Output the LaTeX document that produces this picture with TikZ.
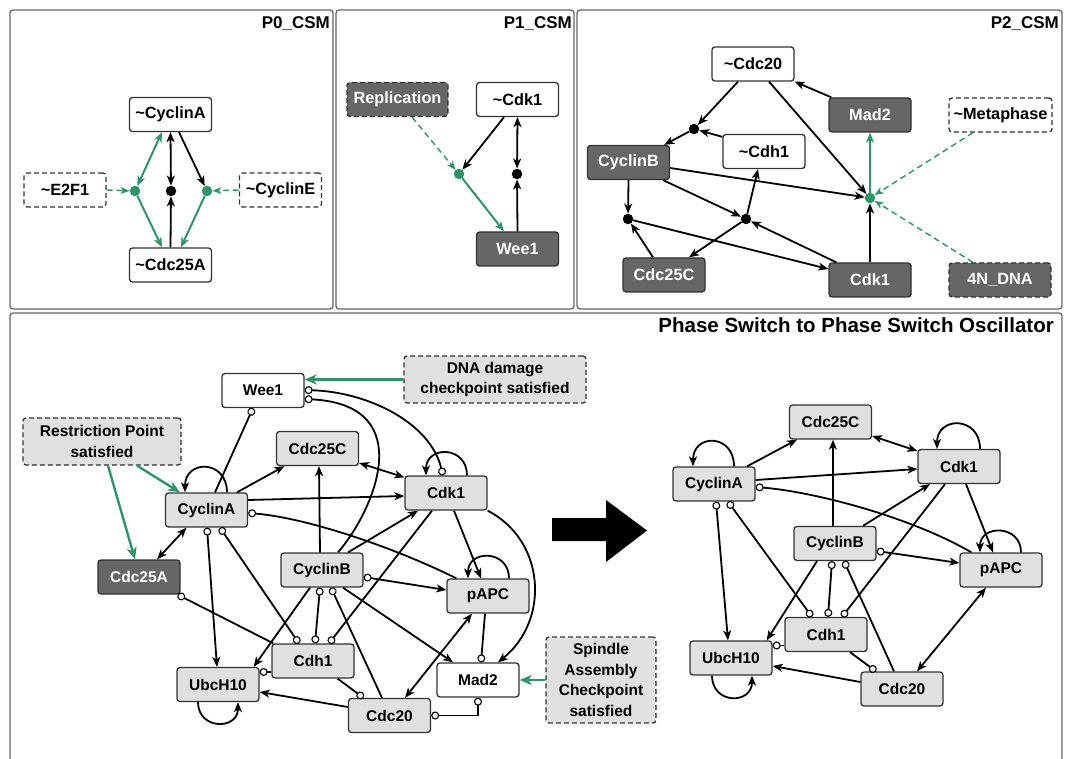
\documentclass[tikz,border=0pt]{standalone}
\usepackage{fontspec}
\setmainfont{Liberation Sans}
\usetikzlibrary{arrows.meta}
\definecolor{grn}{RGB}{44,150,102}
\definecolor{lgray}{RGB}{224,224,224}
\definecolor{dgray}{RGB}{102,102,102}
\definecolor{edgegray}{RGB}{50,50,50}
\begin{document}
\begin{tikzpicture}[x=1pt,y=-1pt,
  ci/.tip={Circle[fill=white,length=8pt,width=8pt,line width=1.1pt]},
  >={Stealth[length=10pt,width=8pt,inset=2.8pt]},
  nbox/.style={rectangle,rounded corners=3pt,draw=edgegray,line width=1.3pt,
    minimum width=82pt,minimum height=34pt,inner sep=2pt,align=center,
    font=\bfseries\fontsize{15.5}{20.5}\selectfont},
  tbox/.style={font=\bfseries\fontsize{16.3}{20}\selectfont},
  wbox/.style={nbox,fill=white},
  lbox/.style={nbox,fill=lgray},
  dbox/.style={nbox,fill=dgray,text=white},
  ext/.style={dash pattern=on 5pt off 3pt},
  kdot/.style={circle,fill=black,inner sep=0pt,minimum size=10.5pt},
  gdot/.style={circle,fill=grn,inner sep=0pt,minimum size=10.5pt},
  ed/.style={line width=1.8pt,draw=black},
  gr/.style={line width=2pt,draw=grn},
  grb/.style={line width=2.4pt,draw=grn,-{Stealth[length=12pt,width=10pt,inset=3.5pt]}},
  grd/.style={line width=1.4pt,draw=grn,dash pattern=on 6pt off 4pt,
    -{Stealth[length=9pt,width=7pt,inset=2.5pt]}},
  panel/.style={draw=black!60,line width=1.3pt,rounded corners=3pt},
  ptitle/.style={anchor=east,inner sep=0pt,font=\bfseries\fontsize{17}{20}\selectfont},
]
\useasboundingbox (0,0) rectangle (1068,759);

% ---------- panels ----------
\draw[panel] (10,10) rectangle (333,309);
\draw[panel] (336,10) rectangle (574,309);
\draw[panel] (577,10) rectangle (1062,309);
\draw[panel] (10,762) -- (10,313) -- (1062,313) -- (1062,762);

\node[ptitle] (t0) at (330,23.5) {P0\_CSM};
\node[ptitle] (t1) at (572,23.5) {P1\_CSM};
\node[ptitle] (t2) at (1059,23.5) {P2\_CSM};
\node[anchor=east,inner sep=0pt,font=\bfseries\fontsize{20.5}{24}\selectfont] (t3)
  at (1054,325) {Phase Switch to Phase Switch Oscillator};

% ---------- P0 ----------
\node[wbox,tbox] (p0a) at (170.5,114.5) {\textasciitilde CyclinA};
\node[wbox,tbox] (p0c) at (170.5,265) {\textasciitilde Cdc25A};
\node[wbox,tbox,ext] (p0e) at (65,190) {\textasciitilde E2F1};
\node[wbox,tbox,ext] (p0ce) at (280.5,190) {\textasciitilde CyclinE};
\node[gdot] (g0l) at (135,191) {};
\node[kdot] (k0) at (171,191) {};
\node[gdot] (g0r) at (207,191) {};
\draw[gr,<->] ([xshift=-8.5pt]p0a.south) -- (g0l);
\draw[gr,->] (g0l) -- ([xshift=-8.5pt]p0c.north);
\draw[grd] (p0e.east) -- (g0l);
\draw[gr,->] (g0r) -- ([xshift=10.5pt]p0c.north);
\draw[ed,->] ([xshift=8.5pt]p0a.south) -- (g0r);
\draw[ed,<->] (p0a.south) -- (k0);
\draw[ed,->] (p0c.north) -- (k0);
\draw[grd] (p0ce.west) -- (g0r);

% ---------- P1 ----------
\node[dbox,tbox,ext,minimum width=101pt] (p1r) at (397.5,99.5) {Replication};
\node[wbox,tbox] (p1k) at (517.5,99.5) {\textasciitilde Cdk1};
\node[dbox,tbox] (p1w) at (517.5,249) {Wee1};
\node[gdot] (g1) at (459,174) {};
\node[kdot] (k1) at (517,174) {};
\draw[grd] ([xshift=14.5pt]p1r.south) -- (g1);
\draw[ed,->] ([xshift=-13.5pt]p1k.south) -- (g1);
\draw[gr,->] (g1) -- ([xshift=-13.5pt]p1w.north);
\draw[ed,<->] (p1k.south) -- (k1);
\draw[ed,->] (p1w.north) -- (k1);

% ---------- P2 ----------
\node[wbox,tbox] (p2c20) at (753,64) {\textasciitilde Cdc20};
\node[dbox,tbox] (p2m) at (870,115) {Mad2};
\node[wbox,tbox,ext,minimum width=103pt] (p2met) at (1000.5,115) {\textasciitilde Metaphase};
\node[wbox,tbox] (p2h) at (764,151.5) {\textasciitilde Cdh1};
\node[dbox,tbox] (p2b) at (628.5,162.5) {CyclinB};
\node[dbox,tbox] (p2c25) at (664,275) {Cdc25C};
\node[dbox,tbox] (p2k) at (870,280) {Cdk1};
\node[dbox,tbox,ext,minimum width=102pt] (p2n) at (1000,280) {4N\_DNA};
\node[kdot] (k2a) at (694,129) {};
\node[kdot] (k2b) at (628,219) {};
\node[kdot] (k2c) at (746,219) {};
\node[gdot] (g2) at (870,198) {};
\draw[ed,->] ([xshift=-15pt]p2c20.south) -- (k2a);
\draw[ed,->] ([yshift=-3pt]p2h.north west) -- (k2a);
\draw[ed,->] (k2a) -- ([xshift=-6pt]p2b.north east);
\draw[ed,->] ([xshift=16pt]p2c20.south) -- (g2);
\draw[ed,->] ([xshift=3pt]p2m.north west) -- (p2c20.south east);
\draw[gr,->] (g2) -- (p2m.south);
\draw[grd] ([xshift=-27.5pt]p2met.south) -- (g2);
\draw[grd] ([xshift=-27pt]p2n.north) -- (g2);
\draw[ed,->] ([yshift=-5.5pt]p2b.east) -- (g2);
\draw[ed,->] (p2k.north) -- (g2);
\draw[ed,->] (p2b.south) -- (k2b);
\draw[ed,->] ([xshift=-7pt]p2b.south east) -- (k2c);
\draw[ed,->] ([xshift=-11pt]p2c25.north) -- (k2b);
\draw[ed,->] (k2b) -- ([yshift=11pt]p2k.west);
\draw[ed,->] (k2c) -- ([xshift=-6pt]p2h.south);
\draw[ed,->] (k2c) -- ([xshift=25pt]p2c25.north);
\draw[ed,->] ([xshift=8pt]p2k.north west) -- (k2c);

% ---------- phase switch network ----------
\node[wbox] (bw) at (263,390.5) {Wee1};
\node[lbox,ext,minimum width=182pt,minimum height=47pt] (bdna) at (495,379.5) {DNA damage\\checkpoint satisfied};
\node[lbox,ext,minimum width=158pt,minimum height=47pt] (brp) at (102,441.5) {Restriction Point\\satisfied};
\node[lbox] (bc25c) at (317.5,448.5) {Cdc25C};
\node[lbox] (bca) at (206.5,510) {CyclinA};
\node[lbox] (bk) at (446,493) {Cdk1};
\node[dbox] (bc25a) at (139,577) {Cdc25A};
\node[lbox] (bcb) at (322,570) {CyclinB};
\node[lbox] (bp) at (488,596) {pAPC};
\node[lbox] (bh) at (313,661) {Cdh1};
\node[lbox] (bu) at (218,684.5) {UbcH10};
\node[wbox] (bm) at (478,680) {Mad2};
\node[lbox] (bc20) at (389.5,715.5) {Cdc20};
\node[lbox,ext,minimum width=110pt,minimum height=86pt] (bsac) at (601,680) {Spindle\\Assembly\\Checkpoint\\satisfied};

\draw[grb] (bdna.west) -- (bdna.west -| bw.east);
\draw[grb] ([xshift=35pt]brp.south) -- ([xshift=15pt]bca.north west);
\draw[grb] ([xshift=6pt]brp.south) -- ([xshift=-4pt]bc25a.north);
\draw[grb] (bsac.west) -- (bsac.west -| bm.east);

\draw[ed,->] ([xshift=20.5pt]bca.north) .. controls +(0,-33) and +(0,-33) .. ([xshift=-21.5pt]bca.north);
\draw[ed,->] ([xshift=21pt]bk.north) .. controls +(0,-30) and +(0,-30) .. ([xshift=-20pt]bk.north);
\draw[ed,->] ([xshift=21pt]bp.north) .. controls +(0,-29) and +(0,-29) .. ([xshift=-20pt]bp.north);
\draw[ed,->] ([xshift=-20pt]bu.south) .. controls +(0,28) and +(0,28) .. ([xshift=20pt]bu.south);

\draw[ed,-ci] ([xshift=8.5pt]bca.north) -- ([xshift=-10pt]bw.south);
\draw[ed,->] ([xshift=30.5pt]bca.north) -- ([xshift=8.5pt]bc25c.south west);
\draw[ed,<->] ([yshift=-14.5pt]bc25c.east) -- ([yshift=-2pt]bk.north west);
\draw[ed,->] ([yshift=10pt]bca.east) -- ([yshift=-3pt]bk.west);
\draw[ed,-ci] ([xshift=10pt]bp.north west) .. controls +(-60,-30) and +(60,5) .. ([yshift=-3pt]bca.east);
\draw[ed,ci->] ([xshift=0.5pt]bca.south) -- ([xshift=-1pt]bu.north);
\draw[ed,ci-ci] ([xshift=13.5pt]bca.south) -- ([xshift=-14pt]bh.north);
\draw[ed,<->] ([xshift=-20pt]bca.south) -- ([xshift=18pt]bc25a.north);
\draw[ed,-ci] ([xshift=2pt]bh.north west) -- ([xshift=-3pt]bc25a.south east);
\draw[ed,->] ([xshift=-2pt]bcb.north) -- ([xshift=1.5pt]bc25c.south);
\draw[ed,->] ([xshift=26pt]bcb.north) -- ([xshift=-28pt]bk.south);
\draw[ed,ci->] ([yshift=-7pt]bcb.east) -- ([yshift=6pt]bp.west);
\draw[ed,ci-ci] ([xshift=-2pt]bcb.south) -- ([xshift=2pt]bh.north);
\draw[ed,ci-] ([xshift=9pt]bcb.south) -- ([xshift=-7.5pt]bc20.north);
\draw[ed,->] ([xshift=-12pt]bcb.south) -- ([xshift=-6pt]bu.north east);
\draw[ed,->] ([xshift=21pt]bcb.south) -- ([xshift=-25pt]bm.north);
\draw[ed,-ci] ([xshift=-14pt]bk.south) -- ([xshift=16pt]bh.north);
\draw[ed,-ci] ([yshift=-11pt]bh.west) -- ([yshift=-11pt]bh.west -| bu.east);
\draw[ed,-ci] ([xshift=-17pt]bh.south east) -- ([xshift=-26pt]bc20.north);
\draw[ed,->] ([yshift=8.5pt]bc20.west) -- ([yshift=-7.5pt]bu.east);
\draw[ed,<->] ([xshift=15.5pt]bc20.north) -- ([xshift=-16pt]bp.south);
\draw[ed,ci-ci] (bc20.east) -- (bc20.east -| bm.south) -- (bm.south);
\draw[ed,-ci] ([xshift=-3pt]bp.south) -- ([xshift=3pt]bm.north);
\draw[ed,->] ([xshift=8pt]bk.south) -- ([xshift=-7pt]bp.north);
\draw[ed,ci-ci] ([yshift=0.5pt]bw.east) .. controls +(63,2) and +(-13,-53) .. ([xshift=-3pt]bk.north);
\draw[ed,-ci] ([xshift=16pt]bcb.north) .. controls +(35,-40) and +(116,6) .. ([yshift=-8.5pt]bw.east);
\draw[ed,->] (bk.south east) .. controls +(58,30) and +(52,-42) .. ([xshift=20pt]bm.north);

% ---------- block arrow ----------
\fill[black] (552,518) -- (606,518) -- (606,500) -- (647,530.5) -- (606,562) -- (606,541) -- (552,541) -- cycle;

% ---------- oscillator network ----------
\node[lbox] (rc25c) at (830.5,422) {Cdc25C};
\node[lbox] (rk) at (959,466.5) {Cdk1};
\node[lbox] (rca) at (714,484) {CyclinA};
\node[lbox] (rcb) at (835,543.5) {CyclinB};
\node[lbox] (rp) at (1001,570) {pAPC};
\node[lbox] (rh) at (826,634.5) {Cdh1};
\node[lbox] (ru) at (731,658) {UbcH10};
\node[lbox] (rc20) at (902,689) {Cdc20};

\draw[ed,->] ([xshift=20pt]rca.north) .. controls +(0,-33) and +(0,-33) .. ([xshift=-21pt]rca.north);
\draw[ed,->] ([xshift=21pt]rk.north) .. controls +(0,-33) and +(0,-33) .. ([xshift=-22pt]rk.north);
\draw[ed,->] ([xshift=20pt]rp.north) .. controls +(0,-28) and +(0,-28) .. ([xshift=-21pt]rp.north);
\draw[ed,->] ([xshift=-19pt]ru.south) .. controls +(0,29) and +(0,29) .. ([xshift=21pt]ru.south);

\draw[ed,->] ([xshift=33pt]rca.north) -- ([xshift=-33.5pt]rc25c.south);
\draw[ed,<->] ([yshift=-14pt]rc25c.east) -- ([yshift=15.5pt]rk.west);
\draw[ed,->] ([yshift=4pt]rca.east) -- ([yshift=-2.5pt]rk.west);
\draw[ed,-ci] ([xshift=12pt]rp.north west) .. controls +(-60,-35) and +(60,5) .. ([yshift=-3pt]rca.east);
\draw[ed,->] ([xshift=-2pt]rcb.north) -- ([xshift=2.5pt]rc25c.south);
\draw[ed,->] ([xshift=28pt]rcb.north) -- ([xshift=-29pt]rk.south);
\draw[ed,ci->] ([yshift=-7.5pt]rcb.east) -- ([yshift=7pt]rp.west);
\draw[ed,->] ([xshift=7pt]rk.south) -- ([xshift=-8pt]rp.north);
\draw[ed,-ci] ([xshift=-14pt]rk.south) -- ([xshift=16pt]rh.north);
\draw[ed,ci-ci] ([xshift=-3pt]rcb.south) -- ([xshift=2pt]rh.north);
\draw[ed,ci-] ([xshift=9pt]rcb.south) -- ([xshift=-8pt]rc20.north);
\draw[ed,->] ([xshift=-18pt]rcb.south) -- ([xshift=-6pt]ru.north east);
\draw[ed,ci->] ([xshift=2pt]rca.south) -- ([xshift=-3pt]ru.north);
\draw[ed,ci-ci] ([xshift=14pt]rca.south) -- ([xshift=-14pt]rh.north);
\draw[ed,-ci] ([yshift=-11pt]rh.west) -- ([yshift=-11pt]rh.west -| ru.east);
\draw[ed,-ci] ([xshift=24pt]rh.south) -- ([xshift=-26pt]rc20.north);
\draw[ed,->] ([yshift=7pt]rc20.west) -- ([yshift=-8pt]ru.east);
\draw[ed,<->] ([xshift=15pt]rc20.north) -- ([xshift=-15pt]rp.south);

\end{tikzpicture}
\end{document}
